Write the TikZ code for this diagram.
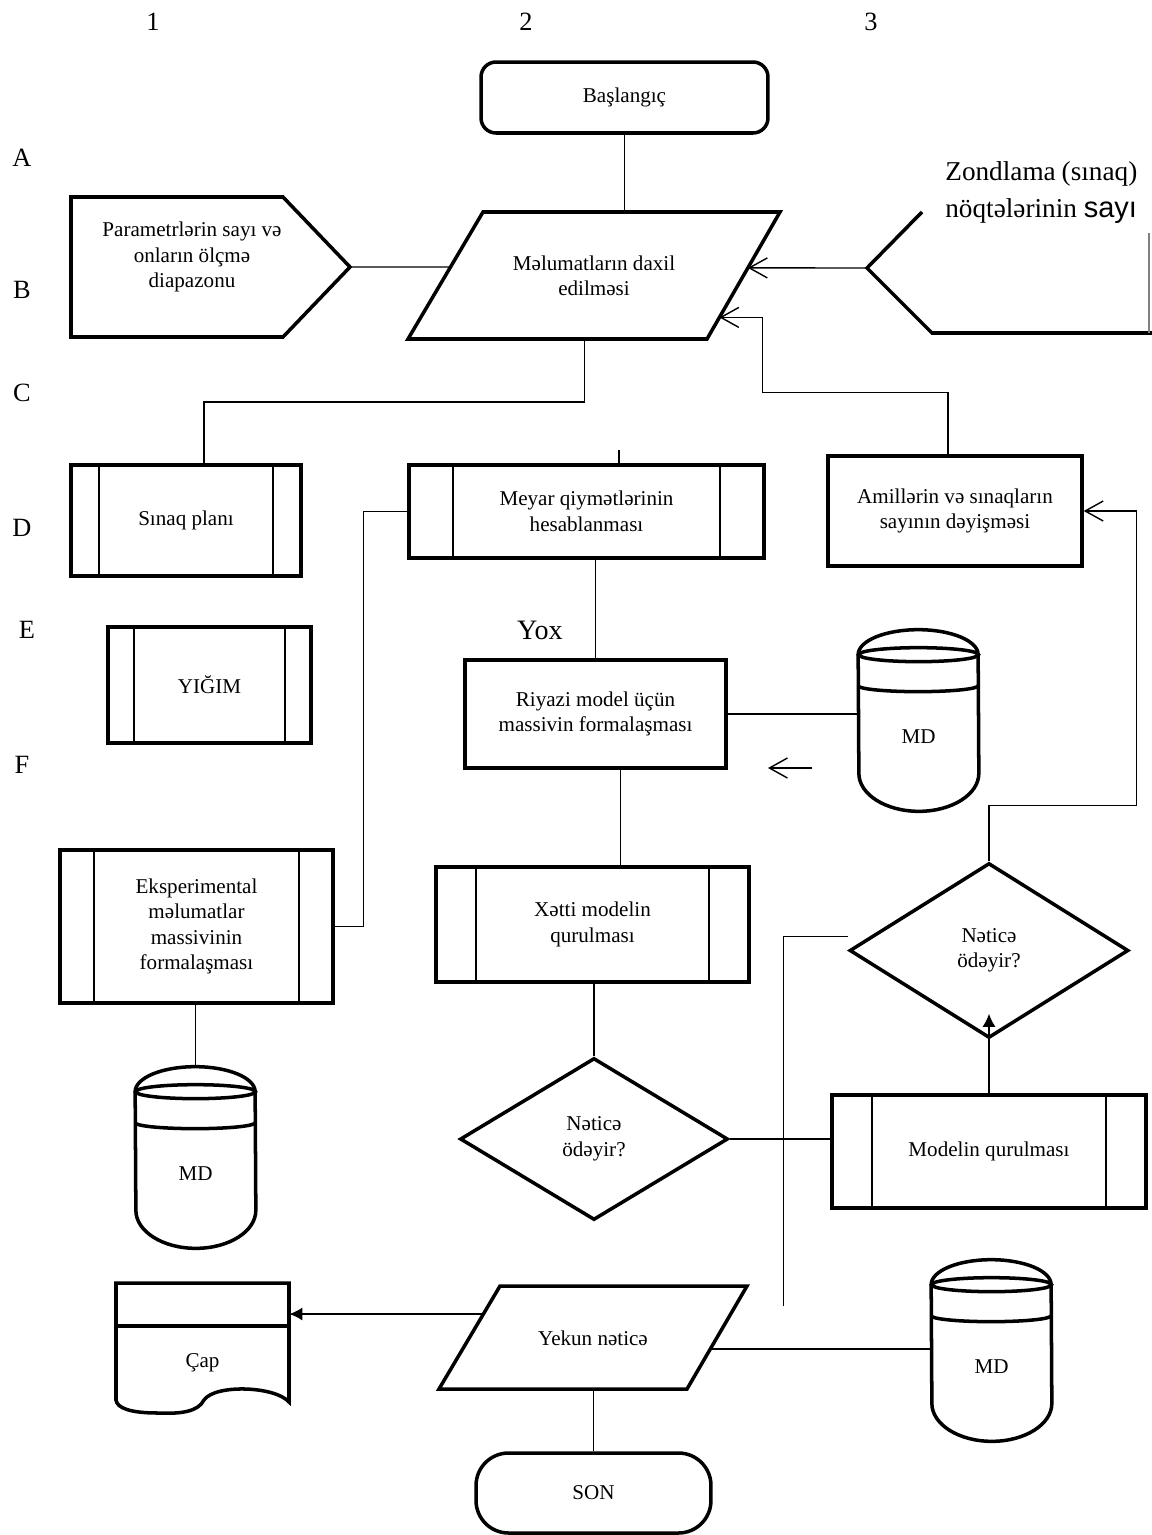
\documentclass[tikz,border=0pt]{standalone}
\usepackage{fontspec}
\setmainfont{Liberation Serif}
\newfontfamily\arialfam{Liberation Sans}
\usetikzlibrary{shapes.geometric,arrows.meta,calc}

\tikzset{
	yazi/.style={font=\fontsize{12}{14.5}\selectfont},
	blok/.style={draw, line width=2pt, align=center, inner sep=1pt, yazi},
	altblok/.style={blok, path picture={
		\draw[line width=1.6pt] ([xshift=#1]path picture bounding box.north west) -- ([xshift=#1]path picture bounding box.south west);
		\draw[line width=1.6pt] ([xshift=-#1]path picture bounding box.north east) -- ([xshift=-#1]path picture bounding box.south east);}},
	qerar/.style={blok, diamond, inner sep=0pt},
	disk/.style={minimum width=2.4cm, minimum height=3.62cm, inner sep=0pt, text height=0.92cm, text depth=0pt, yazi},
	kontur/.style={line width=2pt},
	xett/.style={line width=0.8pt},
	oxdolu/.style={-{Latex[length=2.6mm,width=2.6mm]}},
	isare/.style={font=\fontsize{15}{15}\selectfont}
}

\begin{document}
\begin{tikzpicture}[x=0.02cm, y=-0.02cm, >={Straight Barb[length=3.6mm,width=4mm]}]
	\useasboundingbox (0,0) rectangle (1152,1535);

	% setir ve sutun isareleri
	\foreach \n/\xx in {1/153,2/526,3/871}
		\node[isare] (s\n) at (\xx,22) {\n};
	\foreach \har/\xx/\yy in {A/22/158,B/22/290,C/22/393,D/22/528,E/27/630,F/22/765}
		\node[isare] (r\har) at (\xx,\yy) {\har};

	% bloklar
	\node[blok, rounded corners=0.3cm, minimum width=5.74cm, minimum height=1.42cm] (basla) at (624.5,97.5) {Başlangıç};

	\coordinate (dA) at (408,339);
	\coordinate (dB) at (707,339);
	\coordinate (dC) at (780,212);
	\coordinate (dD) at (483,212);
	\draw[kontur] (dA) -- (dB) -- (dC) -- (dD) -- cycle;
	\node[align=center, yazi] (daxil) at (594,276) {Məlumatların daxil\\edilməsi};

	\draw[kontur] (71,197) -- (283,197) -- (350,267) coordinate (puc) -- (283,337) -- (71,337) -- cycle;
	\node[align=center, yazi] (param) at (192,257) {Parametrlərin sayı və\\onların ölçmə\\diapazonu};

	\node[anchor=north west, inner sep=0pt, align=left, font=\fontsize{15.5}{21}\selectfont] (zond) at (945,161) {\makebox[3.84cm][s]{Zondlama (sınaq)}\\nöqtələrinin {\arialfam\fontsize{16.5}{21}\selectfont sayı}};
	\draw[kontur] (922,212) -- (867,268) coordinate (zuc) -- (932,333) -- (1152,333);
	\draw[gray, line width=0.6pt] (1149,233) -- (1149,333);

	\node[altblok=0.56cm, minimum width=4.6cm, minimum height=2.22cm] (plan) at (186,520.5) {Sınaq planı};
	\node[altblok=0.88cm, minimum width=7.1cm, minimum height=1.86cm] (meyar) at (586.5,511.5) {Meyar qiymətlərinin\\hesablanması};
	\node[blok, minimum width=5.08cm, minimum height=2.2cm] (amil) at (955,511) {Amillərin və sınaqların\\sayının dəyişməsi};
	\node[altblok=0.52cm, minimum width=4.06cm, minimum height=2.32cm] (yigim) at (209.5,685) {YIĞIM};
	\node[font=\fontsize{16}{16}\selectfont] (yox) at (540,630) {Yox};
	\node[blok, minimum width=5.22cm, minimum height=2.16cm] (riyazi) at (595.5,714) {Riyazi model üçün\\massivin formalaşması};
	\node[disk] (md1) at (918.5,720.5) {MD};
	\node[altblok=0.68cm, minimum width=5.46cm, minimum height=3.06cm] (eksp) at (196.5,926.5) {Eksperimental\\məlumatlar\\massivinin\\formalaşması};
	\node[disk] (md2) at (195.5,1157.5) {MD};
	\node[altblok=0.8cm, minimum width=6.26cm, minimum height=2.3cm] (xetti) at (592.5,924.5) {Xətti modelin\\qurulması};
	\node[qerar, minimum width=5.36cm, minimum height=3.24cm] (netice1) at (594,1139) {Nəticə\\ödəyir?};
	\node[qerar, minimum width=5.58cm, minimum height=3.5cm] (netice2) at (989,950.5) {Nəticə\\ödəyir?};
	\node[altblok=0.8cm, minimum width=6.28cm, minimum height=2.26cm] (model) at (989,1151.5) {Modelin qurulması};
	\node[minimum width=3.46cm, minimum height=2.58cm, text height=0.78cm, text depth=0pt, yazi] (cap) at (202.5,1347.5) {Çap};

	\coordinate (yA) at (439,1389);
	\coordinate (yB) at (687,1389);
	\coordinate (yC) at (747,1286);
	\coordinate (yD) at (500,1286);
	\draw[kontur] (yA) -- (yB) -- (yC) -- (yD) -- cycle;
	\node[yazi] (yekun) at (593,1338) {Yekun nəticə};

	\node[disk] (md3) at (991.5,1350.5) {MD};
	\node[blok, rounded corners=0.65cm, minimum width=4.7cm, minimum height=1.6cm] (son) at (593.5,1493) {SON};

	% maqnit disk
	\foreach \m in {md1,md2,md3}{
		\draw[kontur] ([yshift=-0.5cm]\m.north west) arc[start angle=180, end angle=0, x radius=1.2cm, y radius=0.5cm]
			-- ([yshift=0.76cm]\m.south east) arc[start angle=0, end angle=-180, x radius=1.2cm, y radius=0.76cm] -- cycle;
		\draw[kontur] ([yshift=-0.5cm]\m.north) ellipse[x radius=1.2cm, y radius=0.14cm];
		\draw[kontur] ([yshift=-1.12cm]\m.north west) arc[start angle=180, end angle=360, x radius=1.2cm, y radius=0.12cm];
	}

	% cap
	\draw[kontur] (289,1402) -- (289,1283) -- (116,1283) -- (116,1400) .. controls (117,1408) and (130,1413) .. (158,1413) .. controls (180,1414) and (198,1412) .. (204,1400) .. controls (215,1384) and (275,1386) .. (289,1402) -- cycle;
	\draw[kontur] (116,1326) -- (289,1326);

	% xetler
	\draw[xett] (basla.south) -- (basla.south |- dD);
	\draw[xett] (puc) -- ($(dA)!0.567!(dD)$);
	\draw[xett, ->] (zuc) -- ($(dB)!0.56!(dC)$);
	\coordinate (d2uc) at ($(dB)!0.17!(dC)$);
	\draw[xett, ->] ([xshift=-0.14cm]amil.north) -- ++(0,-62) -| ([xshift=0.86cm]d2uc) -- (d2uc);
	\draw[xett] ($(dA)!0.59!(dB)$) -- ++(0,63) -| ([xshift=0.36cm]plan.north);
	\draw[xett] ([xshift=0.65cm]meyar.north) -- ++(0,-13);
	\draw[xett] (meyar.west) -- ++(-44,0) |- (eksp.east);
	\draw[xett] (riyazi.north) -- (riyazi.north |- meyar.south);
	\draw[xett] (riyazi.east) -- (riyazi.east -| md1.west);
	\coordinate (ox1) at (812,768);
	\coordinate (ox2) at (768,768);
	\draw[xett, ->] (ox1) -- (ox2);
	\draw[xett] ([xshift=0.56cm]xetti.north) -- ([xshift=0.56cm]xetti.north |- riyazi.south);
	\draw[xett] (netice1.north) -- (netice1.north |- xetti.south);
	\draw[xett] (netice1.east) -- (netice1.east -| model.west);
	\draw[xett, oxdolu] (model.north) -- ([yshift=0.52cm]netice2.south);
	\draw[xett, ->] (netice2.north) -- ++(0,-56) -| ([xshift=1.06cm]amil.east) -- (amil.east);
	\draw[xett] ([yshift=0.28cm]netice2.west) -- ++(-64,0) -- ++(0,369) coordinate (bos);
	\draw[xett] (md2.north) -- (md2.north |- eksp.south);
	\coordinate (ycap) at ($(yA)!0.728!(yD)$);
	\draw[xett, oxdolu] (ycap) -- (ycap -| cap.east);
	\coordinate (ysag) at ($(yB)!0.388!(yC)$);
	\draw[xett] (ysag) -- (ysag -| md3.west);
	\draw[xett] (son.north) -- (son.north |- yA);
\end{tikzpicture}
\end{document}
